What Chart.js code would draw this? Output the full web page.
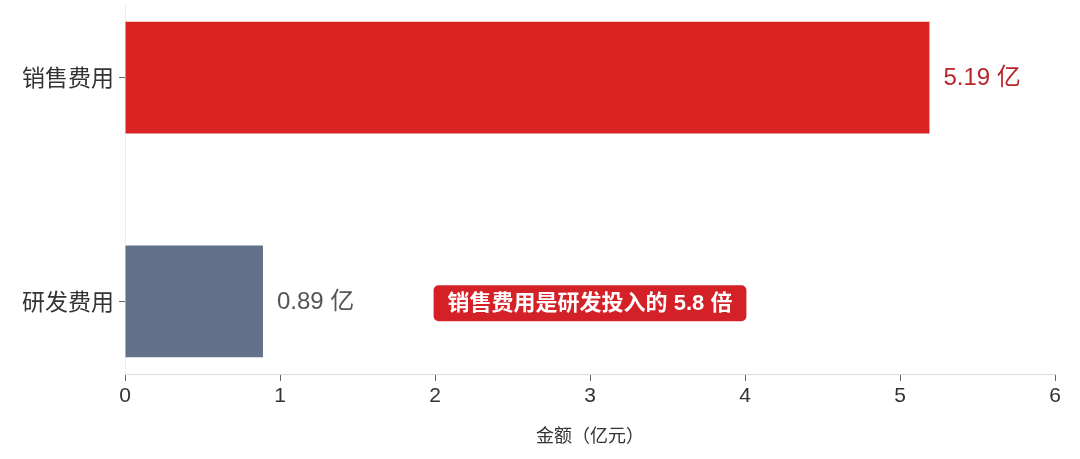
<!DOCTYPE html>
<html><head><meta charset="utf-8">
<script src="https://cdn.jsdelivr.net/npm/chart.js@4/dist/chart.umd.min.js"></script>
<style>html,body{margin:0;padding:0;background:#fff}#wrap{width:1080px;height:459px}</style>
</head><body><div id="wrap"><canvas id="c"></canvas></div>
<script>
const categories = ['销售费用', '研发费用'];
const values = [5.19, 0.89];
const valueLabels = ['5.19 亿', '0.89 亿'];
const barColors = ['#da2424', '#627089'];
const labelColors = ['#b8262c', '#555555'];
const xTicks = [0, 1, 2, 3, 4, 5, 6];
const xTitle = '金额（亿元）';
const noteText = '销售费用是研发投入的 5.8 倍';
const notePos = { x: 3, y: 1 };

const FONT = '"Liberation Sans", "Noto Sans CJK SC", sans-serif';
const CJK = '"Noto Sans CJK SC", sans-serif';

const overlay = {
  id: 'overlay',
  afterDatasetsDraw(chart) {
    const { ctx, scales } = chart;
    const xs = scales.x, ys = scales.y;
    ctx.save();
    ctx.font = '24px ' + FONT;
    ctx.textBaseline = 'middle';
    ctx.textAlign = 'left';
    values.forEach((v, i) => {
      ctx.fillStyle = labelColors[i];
      ctx.fillText(valueLabels[i], xs.getPixelForValue(v) + 14, ys.getPixelForValue(i) + 1);
    });
    // annotation box
    ctx.font = 'bold 22px ' + FONT;
    const cx = xs.getPixelForValue(notePos.x), cy = ys.getPixelForValue(notePos.y) + 2;
    const w = ctx.measureText(noteText).width + 28, h = 36;
    const x0 = cx - w / 2, y0 = cy - h / 2;
    ctx.fillStyle = '#d42128';
    ctx.beginPath();
    ctx.roundRect(x0, y0, w, h, 5);
    ctx.fill();
    ctx.fillStyle = '#ffffff';
    ctx.textAlign = 'center';
    ctx.fillText(noteText, cx, cy + 1);
    ctx.restore();
  }
};

new Chart(document.getElementById('c'), {
  type: 'bar',
  data: {
    datasets: [{
      data: values.map((v, i) => ({ x: v, y: i })),
      backgroundColor: barColors,
      borderWidth: 0,
      barPercentage: 0.5,
      categoryPercentage: 1.0
    }]
  },
  options: {
    indexAxis: 'y',
    responsive: true,
    maintainAspectRatio: false,
    animation: false,
    layout: { padding: { top: 5, right: 25, left: 0, bottom: 13 } },
    plugins: { legend: { display: false }, tooltip: { enabled: false } },
    scales: {
      x: {
        type: 'linear',
        min: xTicks[0],
        max: xTicks[xTicks.length - 1],
        afterBuildTicks: (s) => { s.ticks = xTicks.map(v => ({ value: v })); },
        border: { display: true, color: '#dddddd', width: 1 },
        grid: { drawOnChartArea: false, drawTicks: true, tickLength: 7, tickColor: '#666666' },
        ticks: { color: '#333333', font: { family: FONT, size: 21 }, padding: 3 },
        title: { display: true, text: xTitle, color: '#333333', font: { family: CJK, size: 18 }, padding: { top: 0, bottom: 0 } },
        afterFit: (s) => { s.height = 72; }
      },
      y: {
        type: 'linear',
        offset: false,
        min: -0.325,
        max: 1.325,
        reverse: true,
        afterBuildTicks: (s) => { s.ticks = categories.map((c, i) => ({ value: i })); },
        border: { display: true, color: '#eeeeee', width: 1 },
        grid: { offset: false, drawOnChartArea: false, drawTicks: true, tickLength: 6, tickColor: '#666666' },
        ticks: { color: '#333333', font: { family: CJK, size: 23 }, padding: 5,
          callback: (v) => categories[v] },
        afterFit: (s) => { s.width = 125; s.paddingTop = 0; s.paddingBottom = 0; }
      }
    }
  },
  plugins: [overlay]
});
</script>
</body></html>
